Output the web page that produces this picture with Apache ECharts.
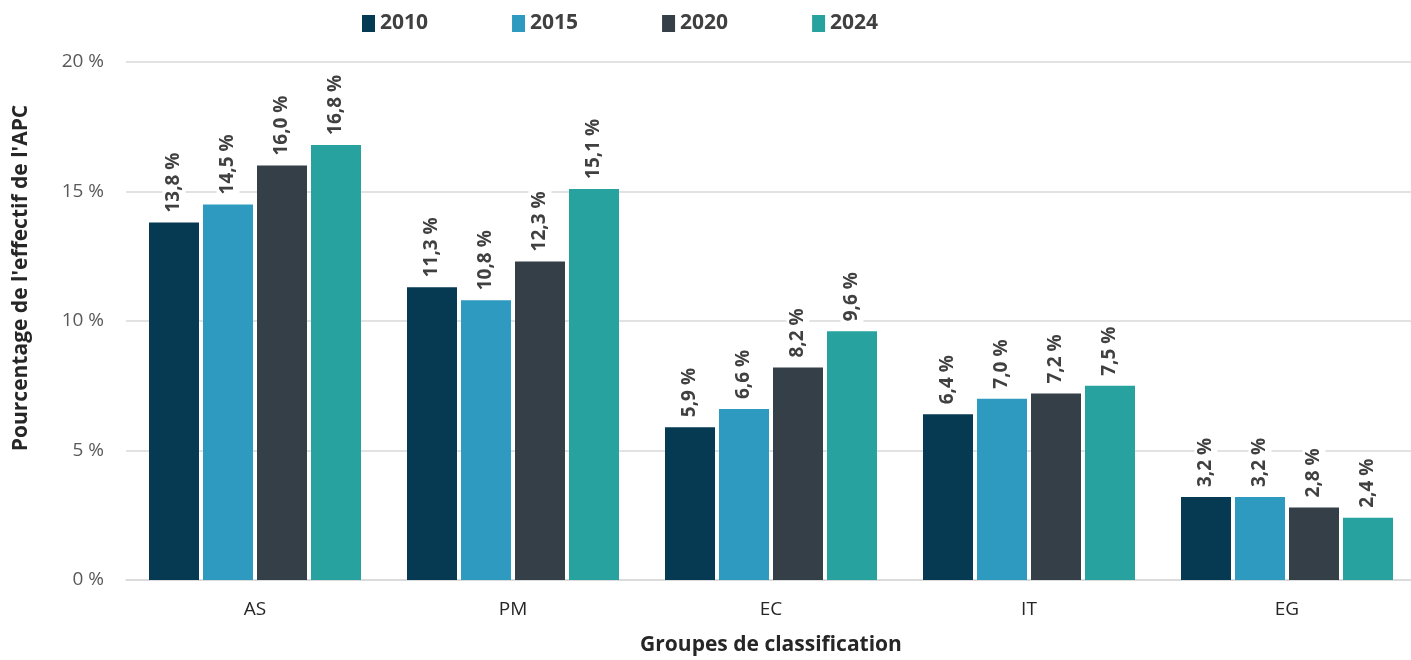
<!DOCTYPE html>
<html><head><meta charset="utf-8">
<script src="https://cdn.jsdelivr.net/npm/echarts@6/dist/echarts.min.js"></script>
<style>html,body{margin:0;padding:0;background:#fff}#c{width:1411px;height:660px}</style>
</head><body><div id="c"></div>
<script>
const categories = ['AS', 'PM', 'EC', 'IT', 'EG'];
const years = ['2010', '2015', '2020', '2024'];
const v2010 = [13.8, 11.3, 5.9, 6.4, 3.2];
const v2015 = [14.5, 10.8, 6.6, 7.0, 3.2];
const v2020 = [16.0, 12.3, 8.2, 7.2, 2.8];
const v2024 = [16.8, 15.1, 9.6, 7.5, 2.4];
const colors = ['#063a52', '#2f9ac0', '#343f48', '#27a29e'];
const yTicks = [0, 5, 10, 15, 20];

const seriesData = [v2010, v2015, v2020, v2024];
const font = 'Open Sans';
const chart = echarts.init(document.getElementById('c'));
chart.setOption({
  animation: false,
  textStyle: { fontFamily: font },
  legend: {
    top: 8, left: 357, itemWidth: 13, itemHeight: 17, itemGap: 84,
    icon: 'rect',
    textStyle: { fontSize: 21, fontWeight: 'bold', color: '#404040', fontFamily: font },
    data: years
  },
  grid: { left: 126, top: 62, width: 1290, height: 518, outerBoundsMode: 'none', containLabel: false },
  xAxis: {
    type: 'category', data: categories,
    axisTick: { show: false },
    axisLine: { lineStyle: { color: '#d9d9d9', width: 1.5 } },
    axisLabel: { fontSize: 19, color: '#262626', margin: 20, fontFamily: font },
    name: 'Groupes de classification', nameLocation: 'middle', nameGap: 55,
    nameTextStyle: { fontSize: 21, fontWeight: 'bold', color: '#262626', fontFamily: font }
  },
  yAxis: {
    type: 'value', min: yTicks[0], max: yTicks[yTicks.length - 1], interval: 5,
    axisLine: { show: false }, axisTick: { show: false },
    splitLine: { lineStyle: { color: '#d9d9d9', width: 1.5 } },
    axisLabel: { fontSize: 19, color: '#595959', margin: 22, formatter: v => v + ' %', fontFamily: font },
    name: "Pourcentage de l'effectif de l'APC", nameLocation: 'middle', nameGap: 94,
    nameTextStyle: { fontSize: 21, fontWeight: 'bold', color: '#262626', fontFamily: font, padding: [0, 0, 0, 86] }
  },
  series: years.map((y, i) => ({
    name: y, type: 'bar', data: seriesData[i],
    barWidth: 50, barGap: '8%',
    itemStyle: { color: colors[i] },
    label: {
      show: true, position: 'top', rotate: 90, distance: 6, align: 'left', verticalAlign: 'middle',
      fontSize: 19, fontWeight: 'bold', color: '#404040', fontFamily: font,
      backgroundColor: '#ffffff', padding: [2, 4],
      formatter: p => p.value.toFixed(1).replace('.', ',') + ' %'
    }
  }))
});
</script></body></html>
